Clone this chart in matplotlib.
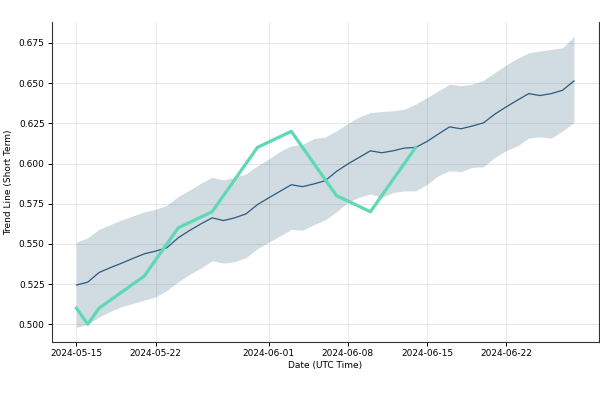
import numpy as np
import pandas as pd
import matplotlib
matplotlib.use("Agg")
import matplotlib.pyplot as plt
import matplotlib.dates as mdates

# daily trend line with its band, 2024-05-15 .. 2024-06-28
trend_dates = pd.date_range("2024-05-15", "2024-06-28", freq="D")
trend = [0.5244, 0.5262, 0.5322, 0.5352, 0.5380, 0.5410, 0.5438, 0.5455, 0.5476, 0.5538,
         0.5583, 0.5624, 0.5662, 0.5645, 0.5662, 0.5687, 0.5744, 0.5786, 0.5827, 0.5868,
         0.5856, 0.5873, 0.5893, 0.5951, 0.5997, 0.6038, 0.6079, 0.6067, 0.6079, 0.6096,
         0.6100, 0.6137, 0.6183, 0.6228, 0.6216, 0.6233, 0.6253, 0.6307, 0.6352, 0.6394,
         0.6435, 0.6423, 0.6435, 0.6456, 0.6514]
upper = [0.5510, 0.5538, 0.5591, 0.5620, 0.5650, 0.5674, 0.5699, 0.5715, 0.5740, 0.5794,
         0.5835, 0.5877, 0.5914, 0.5898, 0.5914, 0.5935, 0.5986, 0.6028, 0.6075, 0.6110,
         0.6120, 0.6155, 0.6165, 0.6203, 0.6249, 0.6290, 0.6317, 0.6323, 0.6328, 0.6338,
         0.6369, 0.6410, 0.6452, 0.6493, 0.6484, 0.6493, 0.6518, 0.6565, 0.6613, 0.6654,
         0.6689, 0.6700, 0.6710, 0.6720, 0.6790]
lower = [0.4980, 0.5000, 0.5045, 0.5080, 0.5110, 0.5130, 0.5150, 0.5170, 0.5210, 0.5265,
         0.5310, 0.5350, 0.5395, 0.5380, 0.5390, 0.5415, 0.5470, 0.5510, 0.5550, 0.5590,
         0.5585, 0.5620, 0.5650, 0.5700, 0.5759, 0.5790, 0.5810, 0.5790, 0.5820, 0.5830,
         0.5830, 0.5870, 0.5924, 0.5955, 0.5950, 0.5976, 0.5980, 0.6038, 0.6080, 0.6110,
         0.6158, 0.6166, 0.6158, 0.6203, 0.6255]

# actual values
actual_dates = pd.to_datetime(["2024-05-15", "2024-05-16", "2024-05-17", "2024-05-21",
                               "2024-05-24", "2024-05-27", "2024-05-31", "2024-06-03",
                               "2024-06-07", "2024-06-10", "2024-06-14"])
actual = [0.51, 0.50, 0.51, 0.53, 0.56, 0.57, 0.61, 0.62, 0.58, 0.57, 0.61]

fig = plt.figure(figsize=(6, 4), dpi=100)
ax = fig.add_axes([0.086, 0.145, 0.912, 0.80])

ax.fill_between(trend_dates, lower, upper, color="#2b5b7e", alpha=0.22, linewidth=0)
ax.plot(trend_dates, trend, color="#2b5b7e", linewidth=0.9)
ax.plot(actual_dates, actual, color="#5fd9b4", linewidth=2.3)

ax.xaxis.set_major_locator(mdates.AutoDateLocator())
ax.xaxis.set_major_formatter(mdates.DateFormatter("%Y-%m-%d"))
ax.grid(True, color="#e3e3e3", linewidth=0.6)
ax.set_axisbelow(True)

ax.set_xlabel("Date (UTC Time)", fontsize=6.5, labelpad=2)
ax.set_ylabel("Trend Line (Short Term)", fontsize=6.5, labelpad=4)
ax.tick_params(labelsize=6.5, length=3, width=0.7, pad=2)
ax.spines["top"].set_visible(False)
for s in ["left", "bottom", "right"]:
    ax.spines[s].set_color("#333333")
    ax.spines[s].set_linewidth(0.8)

fig.savefig("out.png", dpi=100)
